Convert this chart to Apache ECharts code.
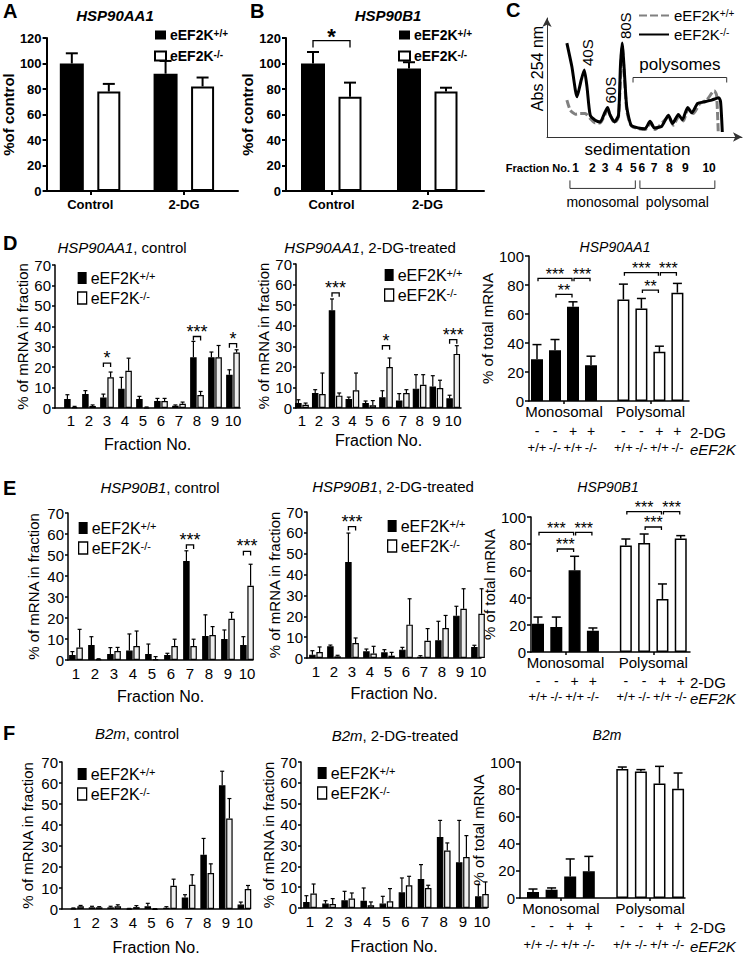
<!DOCTYPE html>
<html><head><meta charset="utf-8">
<script src="https://cdn.jsdelivr.net/npm/echarts@6/dist/echarts.min.js"></script>
<style>html,body{margin:0;padding:0;background:#fff}#c{width:745px;height:957px}</style>
</head><body><div id="c"></div><script>
const FONT = '"Liberation Sans", Arial, Helvetica, sans-serif';
const WT = 'eEF2K+/+', KO = 'eEF2K-/-';
const WT_P = 'eEF2K+/+ profile', KO_P = 'eEF2K-/- profile';

// ---------- Panel A / B : % of control ----------
const abCategories = ['Control', '2-DG'];
const aWT = [100, 92], aWTErr = [108, 102];
const aKO = [78, 82], aKOErr = [84, 89];
const bWT = [100, 96], bWTErr = [109, 101];
const bKO = [74, 78], bKOErr = [85, 81];
const bSig = [[1, 118, '*']];

// ---------- Panel C : polysome profile (x: sedimentation, y: Abs 254) ----------
const cProfileKO = [[10.4,78.9],[13.0,59.2],[15.7,33.8],[17.9,47.9],[19.5,56.3],[20.9,42.3],[22.6,18.3],[25.2,14.1],[27.8,12.7],[30.4,21.1],[31.7,24.8],[33.0,18.3],[35.3,12.7],[37.4,18.3],[38.4,59.2],[39.3,78.9],[40.3,59.2],[41.7,25.4],[44.0,9.9],[47.8,7.6],[51.3,7.0],[53.9,13.2],[56.2,7.6],[60.0,9.0],[63.5,18.3],[65.7,11.3],[68.7,18.9],[70.8,14.6],[73.6,24.8],[75.7,20.3],[78.8,28.2],[82.6,29.6],[86.1,31.0],[89.9,33.0],[90.8,29.6],[91.7,4.2]];
const cProfileWT = [[10.4,31.0],[12.2,22.5],[14.8,19.2],[17.4,19.7],[20.0,19.7],[22.6,15.5],[25.2,11.8],[27.8,11.8],[31.7,22.5],[35.3,11.8],[37.4,16.9],[39.3,76.1],[41.7,22.5],[44.3,9.0],[51.3,6.2],[54.3,11.8],[56.5,6.2],[63.5,16.9],[66.1,9.9],[69.0,17.5],[71.3,13.5],[73.9,23.9],[76.5,19.7],[80.0,28.2],[83.5,31.0],[87.5,38.9],[88.7,35.2],[89.6,2.8]];
const cPeakLabels = ['40S', '60S', '80S'];
const cPeakX = [19.5, 31.7, 39.3];
const cPeakY = [56.3, 24.8, 78.9];
const cFractionLabels = ['1','2','3','4','5','6','7','8','9','10'];
const cFractionPos = [15.0, 23.7, 30.4, 37.7, 45.2, 49.6, 56.0, 64.0, 72.3, 84.8];
const cPolysomeRange = [45, 94];

// ---------- Fraction panels ----------
const fractions = [1,2,3,4,5,6,7,8,9,10];
const dCtrlWT = [4.4, 6.8, 5.2, 9.4, 4.4, 3.4, 1.1, 24.8, 24.8, 16.3];
const dCtrlWTErr = [6.5, 8.5, 6.8, 15.0, 5.7, 4.7, 1.5, 32.6, 27.4, 18.7];
const dCtrlKO = [0.5, 1.0, 15.0, 18.2, 0.3, 3.4, 2.1, 6.4, 24.8, 27.2];
const dCtrlKOErr = [0.8, 1.5, 17.6, 24.4, 0.5, 4.7, 2.9, 8.1, 30.6, 28.5];
const dCtrlSig = [[3, 22, '*'], [8, 35, '***'], [10, 31.5, '*']];

const dDgWT = [2.4, 7.3, 47.5, 4.4, 2.4, 5.2, 3.7, 9.4, 10.5, 4.7];
const dDgWTErr = [4.0, 8.9, 53.0, 5.3, 3.4, 8.4, 7.0, 16.2, 15.7, 6.2];
const dDgKO = [1.6, 6.8, 6.0, 8.6, 1.3, 19.9, 7.3, 11.3, 9.7, 26.3];
const dDgKOErr = [2.4, 17.0, 7.3, 17.0, 3.6, 24.3, 8.9, 16.2, 13.5, 30.3];
const dDgSig = [[3, 56, '***'], [6, 30.3, '*'], [10, 33.2, '***']];

const eCtrlWT = [2.4, 7.2, 2.9, 4.5, 2.9, 2.4, 47.2, 11.4, 10.0, 7.2];
const eCtrlWTErr = [4.0, 11.1, 5.9, 12.4, 7.6, 3.2, 52.0, 21.5, 14.3, 11.1];
const eCtrlKO = [5.9, 0.5, 4.3, 6.7, 0.5, 6.7, 6.7, 11.9, 19.6, 35.3];
const eCtrlKOErr = [14.6, 0.6, 6.0, 13.8, 1.6, 9.9, 9.9, 15.9, 22.7, 45.6];
const eCtrlSig = [[7, 54.8, '***'], [10, 51.7, '***']];

const eDgWT = [1.6, 5.6, 46.0, 3.2, 2.7, 4.0, 0.6, 8.5, 20.3, 5.3];
const eDgWTErr = [3.5, 6.2, 59.9, 4.3, 4.0, 5.1, 1.1, 17.6, 24.8, 6.1];
const eDgKO = [2.9, 0.8, 7.2, 2.1, 1.1, 16.0, 8.3, 14.4, 23.6, 21.2];
const eDgKOErr = [5.3, 1.3, 9.6, 5.6, 2.7, 28.4, 14.1, 20.4, 33.2, 33.2];
const eDgSig = [[3, 63, '***']];

const fCtrlWT = [0.3, 0.8, 0.8, 0.2, 1.3, 0.6, 5.5, 25.8, 58.9, 2.1];
const fCtrlWTErr = [0.5, 1.3, 1.3, 0.3, 2.7, 1.1, 6.8, 33.6, 65.6, 3.3];
const fCtrlKO = [1.3, 0.8, 1.3, 0.9, 0.1, 11.1, 11.5, 17.1, 43.1, 9.5];
const fCtrlKOErr = [1.7, 1.1, 2.0, 1.6, 0.2, 14.2, 16.3, 21.5, 52.6, 11.2];

const fDgWT = [2.9, 2.1, 3.7, 3.5, 2.1, 7.5, 13.9, 34.0, 21.9, 5.6];
const fDgWTErr = [5.9, 3.5, 8.0, 9.6, 5.6, 14.4, 20.8, 42.0, 42.0, 11.2];
const fDgKO = [6.9, 1.9, 4.5, 1.3, 3.2, 10.9, 9.6, 27.6, 24.4, 6.7];
const fDgKOErr = [11.5, 4.5, 7.2, 2.9, 9.3, 15.2, 10.9, 31.2, 34.7, 12.5];

// ---------- Total mRNA panels ----------
const groupLabels = ['Monosomal', 'Polysomal'];
const dgRow = ['-', '-', '+', '+'];
const genoRow = ['+/+', '-/-', '+/+', '-/-'];
const dTotMono = [28.8, 35.0, 65.0, 24.7], dTotMonoErr = [38.9, 42.4, 68.4, 30.9];
const dTotPoly = [70.0, 63.8, 33.9, 74.7], dTotPolyErr = [80.6, 70.7, 37.8, 81.1];
const dTotSig = [[1,3,84.6,'***'],[3,4,84.6,'***'],[2,3,73.5,'**'],[5,7,88.5,'***'],[7,8,88.5,'***'],[6,7,76.5,'**']];
const eTotMono = [21.0, 18.5, 60.5, 15.8], eTotMonoErr = [25.9, 25.9, 70.9, 17.8];
const eTotPoly = [78.8, 80.7, 39.3, 84.0], eTotPolyErr = [83.7, 87.4, 50.4, 86.2];
const eTotSig = [[1,3,88.6,'***'],[3,4,88.6,'***'],[2,3,76.3,'***'],[5,7,104,'***'],[7,8,104,'***'],[6,7,92.6,'***']];
const fTotMono = [4.4, 6.1, 15.9, 19.6], fTotMonoErr = [6.6, 7.4, 28.7, 30.6];
const fTotPoly = [94.9, 93.1, 84.1, 80.4], fTotPolyErr = [96.3, 94.4, 96.8, 91.9];

// ===================================================================
const chart = echarts.init(document.getElementById('c'), null, {renderer: 'svg'});
const option = {animation: false, backgroundColor: '#fff', grid: [], xAxis: [], yAxis: [], series: [], legend: [], graphic: []};
const BAR_SLOTS = [1, 2, 3, 4, 5.8, 6.8, 7.8, 8.8];

function txt(x, y, text, style, rot) {
  option.graphic.push({type: 'text', x, y, rotation: rot || 0, silent: true,
    style: Object.assign({text, fontFamily: FONT, fontSize: 14, fill: '#000', align: 'center', verticalAlign: 'middle'}, style || {})});
}
function richTitle(x, y, gene, rest, size) {
  txt(x, y, '{i|' + gene + '}' + rest, {fontSize: size, rich: {i: {fontStyle: 'italic', fontFamily: FONT, fontSize: size, fill: '#000'}}});
}
function addLegend(left, top, o) {
  const fs = o.fontSize || 15, bold = o.bold ? 'bold' : 'normal';
  option.legend.push({
    left, top, orient: 'vertical', selectedMode: false, padding: 0,
    itemWidth: o.iw || 9, itemHeight: o.ih || 12, itemGap: o.gap || 4,
    data: o.data || [
      {name: WT, icon: 'rect', itemStyle: {color: '#000', borderWidth: 0}},
      {name: KO, icon: 'rect', itemStyle: {color: '#fff', borderColor: '#000', borderWidth: o.bwid || 1.3}}],
    formatter: n => n.indexOf('+/+') >= 0 ? 'eEF2K{s|+/+}' : 'eEF2K{s|-/-}',
    textStyle: {fontFamily: FONT, fontSize: fs, fontWeight: bold, color: '#000', padding: [0, 0, 0, -1],
      rich: {s: {fontSize: Math.round(fs * 0.68), fontWeight: bold, fontFamily: FONT, color: '#000', verticalAlign: 'top', padding: [0, 0, 0, 0]}}}
  });
}
function barsSeries(xi, yi, name, xs, vals, errs, fill, lw, bw, off, capW) {
  return {type: 'custom', name, xAxisIndex: xi, yAxisIndex: yi, clip: false, silent: true, z: 3,
    data: xs.map((x, i) => [x, vals[i], errs[i]]),
    renderItem(params, api) {
      const x = api.value(0), v = api.value(1), e = api.value(2);
      const b = api.coord([x, 0]), t = api.coord([x, v]), et = api.coord([x, e]);
      const cx = b[0] + off, h = lw / 2;
      return {type: 'group', children: [
        {type: 'line', shape: {x1: cx, y1: t[1], x2: cx, y2: et[1]}, style: {stroke: '#000', lineWidth: lw}},
        {type: 'line', shape: {x1: cx - capW / 2, y1: et[1], x2: cx + capW / 2, y2: et[1]}, style: {stroke: '#000', lineWidth: lw}},
        {type: 'rect', shape: {x: cx - bw / 2 + h, y: t[1] + h, width: bw - lw, height: Math.max(0, b[1] - t[1] - lw)},
          style: {fill, stroke: '#000', lineWidth: lw}}
      ]};
    }};
}
function sigSeries(xi, yi, items, offA, offB, drop, fontSize, gap, bold) {
  return {type: 'custom', xAxisIndex: xi, yAxisIndex: yi, clip: false, silent: true, z: 4,
    data: items.map(d => [d[0], d[2], d[1]]),
    renderItem(params, api) {
      const d = items[params.dataIndex];
      const a = api.coord([d[0], d[2]]), b = api.coord([d[1], d[2]]);
      const x1 = a[0] + offA, x2 = b[0] + offB, y = a[1];
      return {type: 'group', children: [
        {type: 'polyline', shape: {points: [[x1, y + drop], [x1, y], [x2, y], [x2, y + drop]]}, style: {stroke: '#000', lineWidth: 1.3, fill: null}},
        {type: 'text', x: (x1 + x2) / 2, y: y - gap, style: {text: d[3], fontSize, fontWeight: bold ? 'bold' : 'normal', fontFamily: FONT, fill: '#000', align: 'center', verticalAlign: 'middle'}}
      ]};
    }};
}
const blackLine = w => ({show: true, onZero: false, lineStyle: {color: '#000', width: w}});

// ---------- A / B ----------
function abPanel(c) {
  const gi = option.grid.length;
  option.grid.push({left: c.left, top: 38, width: c.right - c.left, height: 153});
  const xi = option.xAxis.length, yi = option.yAxis.length;
  const min = 1 - (c.p1 - c.left) / c.s, max = 1 + (c.right - c.p1) / c.s;
  option.xAxis.push({type: 'value', gridIndex: gi, min, max, splitLine: {show: false}, axisLine: blackLine(2),
    axisTick: {show: true, customValues: [1, 2], length: 4, lineStyle: {color: '#000', width: 2}},
    axisLabel: {customValues: [1, 2], formatter: v => abCategories[v - 1], color: '#000', fontFamily: FONT, fontSize: 13, fontWeight: 'bold', margin: 7}});
  option.yAxis.push({type: 'value', gridIndex: gi, min: 0, max: 120, interval: 20, splitLine: {show: false}, axisLine: blackLine(2),
    axisTick: {show: true, length: 4, lineStyle: {color: '#000', width: 2}},
    axisLabel: {color: '#000', fontFamily: FONT, fontSize: 13, fontWeight: 'bold', margin: 5},
    name: '%of control', nameLocation: 'middle', nameGap: 27, nameTextStyle: {color: '#000', fontFamily: FONT, fontSize: 15, fontWeight: 'bold'}});
  const pos = [1, 2];
  option.series.push(barsSeries(xi, yi, WT, pos, c.wt, c.wtErr, '#000', 2, 24, -18.5, 12));
  option.series.push(barsSeries(xi, yi, KO, pos, c.ko, c.koErr, '#fff', 2, 23, 18.5, 12));
  if (c.sig) option.series.push(sigSeries(xi, yi, c.sig.map(d => [d[0], d[0], d[1], d[2]]), -18.5, 18.5, 7, 22, 4, true));
  addLegend(c.legLeft, 28, {fontSize: 14, bold: true, iw: 11, ih: 9, gap: 7, bwid: 2});
  txt(c.titleX, 15, c.title, {fontSize: 15, fontWeight: 'bold', fontStyle: 'italic'});
}
abPanel({left: 41, right: 238, p1: 86, s: 96.5, wt: aWT, wtErr: aWTErr, ko: aKO, koErr: aKOErr, legLeft: 154, title: 'HSP90AA1', titleX: 115});
abPanel({left: 286, right: 484, p1: 331.5, s: 96, wt: bWT, wtErr: bWTErr, ko: bKO, koErr: bKOErr, sig: bSig, legLeft: 398, title: 'HSP90B1', titleX: 388});

// ---------- C ----------
(function () {
  const gi = option.grid.length;
  option.grid.push({left: 547, top: 18, width: 195, height: 119});
  const xi = option.xAxis.length, yi = option.yAxis.length;
  const axLine = {show: true, onZero: false, symbol: ['none', 'arrow'], symbolSize: [7, 9], lineStyle: {color: '#333', width: 1}};
  option.xAxis.push({type: 'value', gridIndex: gi, min: 0, max: 102, splitLine: {show: false}, axisLine: axLine, axisTick: {show: false}, axisLabel: {show: false},
    name: 'sedimentation', nameLocation: 'middle', nameGap: 4, nameTextStyle: {color: '#000', fontFamily: FONT, fontSize: 17, padding: [0, 14, 0, 0]}});
  option.xAxis.push({type: 'value', gridIndex: gi, min: 0, max: 102, position: 'bottom', offset: 25, splitLine: {show: false}, axisLine: {show: false}, axisTick: {show: false},
    axisLabel: {customValues: cFractionPos, formatter: v => cFractionLabels[cFractionPos.indexOf(v)], color: '#000', fontFamily: FONT, fontSize: 12, fontWeight: 'bold', margin: 0}});
  option.yAxis.push({type: 'value', gridIndex: gi, min: 0, max: 100, splitLine: {show: false}, axisLine: axLine, axisTick: {show: false}, axisLabel: {show: false},
    name: 'Abs 254 nm', nameLocation: 'middle', nameGap: 2, nameTextStyle: {color: '#000', fontFamily: FONT, fontSize: 16, padding: [0, 0, 0, 18]}});
  option.series.push({type: 'line', name: WT_P, xAxisIndex: xi, yAxisIndex: yi, data: cProfileWT, symbol: 'none', smooth: 0.2, z: 2,
    lineStyle: {color: '#808080', width: 3, type: [8, 3]}, itemStyle: {color: '#808080'}});
  option.series.push({type: 'line', name: KO_P, xAxisIndex: xi, yAxisIndex: yi, data: cProfileKO, symbol: 'none', smooth: 0.2, z: 3,
    lineStyle: {color: '#000', width: 3}, itemStyle: {color: '#000'}});
  option.series.push({type: 'custom', xAxisIndex: xi, yAxisIndex: yi, clip: false, silent: true, z: 4,
    data: cPeakX.map((x, i) => [x, cPeakY[i]]),
    renderItem(params, api) {
      const p = api.coord([api.value(0), api.value(1)]);
      return {type: 'text', x: p[0] + 3, y: p[1] - 4, rotation: Math.PI / 2,
        style: {text: cPeakLabels[params.dataIndex], fontFamily: FONT, fontSize: 15, fill: '#000', align: 'left', verticalAlign: 'middle'}};
    }});
  const brackets = [
    {x1: cPolysomeRange[0], x2: cPolysomeRange[1], y: 50, dir: 1, label: 'polysomes', ly: -13, fs: 17},
    {x1: cFractionPos[0] - 3, x2: cFractionPos[4] + 1, y: -36.5, dir: -1, label: 'monosomal', ly: 14, fs: 14},
    {x1: cFractionPos[5] - 1, x2: cFractionPos[9] + 3, y: -36.5, dir: -1, label: 'polysomal', ly: 14, fs: 14}];
  option.series.push({type: 'custom', xAxisIndex: xi, yAxisIndex: yi, clip: false, silent: true, z: 4,
    data: brackets.map(b => [b.x1, b.y]),
    renderItem(params, api) {
      const b = brackets[params.dataIndex];
      const p1 = api.coord([b.x1, b.y]), p2 = api.coord([b.x2, b.y]);
      const yl = b.dir > 0 ? p1[1] : p1[1] + 8;
      const ye = b.dir > 0 ? p1[1] + 5 : p1[1];
      return {type: 'group', children: [
        {type: 'polyline', shape: {points: [[p1[0], ye], [p1[0], yl], [p2[0], yl], [p2[0], ye]]}, style: {stroke: '#333', lineWidth: 1, fill: null}},
        {type: 'text', x: (p1[0] + p2[0]) / 2, y: yl + b.ly, style: {text: b.label, fontFamily: FONT, fontSize: b.fs, fill: '#000', align: 'center', verticalAlign: 'middle'}}]};
    }});
  option.legend.push({left: 638, top: 8, orient: 'vertical', selectedMode: false, padding: 0, itemWidth: 30, itemHeight: 14, itemGap: 4,
    data: [{name: WT_P, itemStyle: {opacity: 0}}, {name: KO_P, itemStyle: {opacity: 0}}],
    formatter: n => n.indexOf('+/+') >= 0 ? 'eEF2K{s|+/+}' : 'eEF2K{s|-/-}',
    textStyle: {fontFamily: FONT, fontSize: 15, color: '#000', rich: {s: {fontSize: 10, fontFamily: FONT, color: '#000', verticalAlign: 'top'}}}});
  txt(570, 168, 'Fraction No.', {fontSize: 11, fontWeight: 'bold', align: 'right'});
})();

// ---------- fraction panels ----------
function fracPanel(c) {
  const gi = option.grid.length;
  option.grid.push({left: c.left, top: c.top, width: c.right - c.left, height: c.bottom - c.top});
  const xi = option.xAxis.length, yi = option.yAxis.length;
  const min = 1 - (c.p1 - c.left) / c.s, max = 1 + (c.right - c.p1) / c.s;
  option.xAxis.push({type: 'value', gridIndex: gi, min, max, splitLine: {show: false}, axisLine: blackLine(1.5), axisTick: {show: false},
    axisLabel: {customValues: fractions, formatter: v => String(v), color: '#000', fontFamily: FONT, fontSize: 15, margin: c.lm},
    name: 'Fraction No.', nameLocation: 'middle', nameGap: c.ng, nameTextStyle: {color: '#000', fontFamily: FONT, fontSize: 16}});
  option.yAxis.push({type: 'value', gridIndex: gi, min: 0, max: 70, interval: 10, splitLine: {show: false}, axisLine: blackLine(1.5),
    axisTick: {show: true, length: 3, lineStyle: {color: '#000', width: 1.5}},
    axisLabel: {color: '#000', fontFamily: FONT, fontSize: 15, margin: 4},
    name: '% of mRNA in fraction', nameLocation: 'middle', nameGap: c.yng, nameTextStyle: {color: '#000', fontFamily: FONT, fontSize: 15}});
  const bw = 6.5, off = 3.6;
  option.series.push(barsSeries(xi, yi, WT, fractions, c.wt, c.wtErr, '#000', 1.2, bw, -off, 4));
  option.series.push(barsSeries(xi, yi, KO, fractions, c.ko, c.koErr, '#eeeeee', 1.2, bw, off, 4));
  if (c.sig) option.series.push(sigSeries(xi, yi, c.sig.map(d => [d[0], d[0], d[1], d[2]]), -off, off, 4, 18, 5));
  addLegend(c.legLeft, c.legTop, {fontSize: 16});
  richTitle(c.tx, c.ty, c.gene, c.rest, 15);
}
fracPanel({left: 55, right: 240, top: 265, bottom: 408, p1: 71, s: 18, lm: 5, ng: 28, yng: 22, wt: dCtrlWT, wtErr: dCtrlWTErr, ko: dCtrlKO, koErr: dCtrlKOErr, sig: dCtrlSig, legLeft: 77, legTop: 270, tx: 122, ty: 247, gene: 'HSP90AA1', rest: ', control'});
fracPanel({left: 296, right: 461, top: 264, bottom: 408, p1: 302, s: 16.8, lm: 5, ng: 24, yng: 20, wt: dDgWT, wtErr: dDgWTErr, ko: dDgKO, koErr: dDgKOErr, sig: dDgSig, legLeft: 384, legTop: 267, tx: 370, ty: 247, gene: 'HSP90AA1', rest: ', 2-DG-treated'});
fracPanel({left: 68, right: 253, top: 513, bottom: 660, p1: 76, s: 19, lm: 6, ng: 28, yng: 27, wt: eCtrlWT, wtErr: eCtrlWTErr, ko: eCtrlKO, koErr: eCtrlKOErr, sig: eCtrlSig, legLeft: 78, legTop: 520, tx: 160, ty: 487, gene: 'HSP90B1', rest: ', control'});
fracPanel({left: 307, right: 481, top: 512, bottom: 658, p1: 316, s: 18, lm: 6, ng: 27, yng: 23, wt: eDgWT, wtErr: eDgWTErr, ko: eDgKO, koErr: eDgKOErr, sig: eDgSig, legLeft: 387, legTop: 518, tx: 393, ty: 486, gene: 'HSP90B1', rest: ', 2-DG-treated'});
fracPanel({left: 62, right: 250, top: 762, bottom: 909, p1: 77, s: 18.6, lm: 6, ng: 30, yng: 27, wt: fCtrlWT, wtErr: fCtrlWTErr, ko: fCtrlKO, koErr: fCtrlKOErr, legLeft: 77, legTop: 766, tx: 137, ty: 733, gene: 'B2m', rest: ', control'});
fracPanel({left: 301, right: 487, top: 762, bottom: 908, p1: 310, s: 19.1, lm: 6, ng: 30, yng: 22, wt: fDgWT, wtErr: fDgWTErr, ko: fDgKO, koErr: fDgKOErr, legLeft: 317, legTop: 765, tx: 395, ty: 735, gene: 'B2m', rest: ', 2-DG-treated'});

// ---------- total mRNA panels ----------
function totPanel(c) {
  const gi = option.grid.length;
  option.grid.push({left: c.left, top: c.top, width: c.right - c.left, height: c.bottom - c.top});
  const xi = option.xAxis.length, yi = option.yAxis.length;
  const min = 1 - (c.p1 - c.left) / c.s, max = 1 + (c.right - c.p1) / c.s;
  const centers = [(BAR_SLOTS[0] + BAR_SLOTS[3]) / 2, (BAR_SLOTS[4] + BAR_SLOTS[7]) / 2];
  const lab = {color: '#000', fontFamily: FONT, fontSize: 15, margin: 3};
  option.xAxis.push({type: 'value', gridIndex: gi, min, max, splitLine: {show: false}, axisLine: blackLine(1.5),
    axisTick: {show: true, customValues: centers, length: 3, lineStyle: {color: '#000', width: 1.5}},
    axisLabel: Object.assign({customValues: centers, formatter: v => groupLabels[centers.indexOf(v)]}, lab)});
  option.xAxis.push({type: 'value', gridIndex: gi, min, max, position: 'bottom', offset: c.r1, splitLine: {show: false}, axisLine: {show: false}, axisTick: {show: false},
    axisLabel: Object.assign({customValues: BAR_SLOTS, formatter: v => dgRow[BAR_SLOTS.indexOf(v) % 4]}, lab, {fontSize: 14})});
  option.xAxis.push({type: 'value', gridIndex: gi, min, max, position: 'bottom', offset: c.r2, splitLine: {show: false}, axisLine: {show: false}, axisTick: {show: false},
    axisLabel: Object.assign({customValues: BAR_SLOTS, formatter: v => genoRow[BAR_SLOTS.indexOf(v) % 4]}, lab, {fontSize: 13})});
  option.yAxis.push({type: 'value', gridIndex: gi, min: 0, max: 100, interval: 20, splitLine: {show: false}, axisLine: blackLine(1.5),
    axisTick: {show: true, length: 4, lineStyle: {color: '#000', width: 1.5}},
    axisLabel: {color: '#000', fontFamily: FONT, fontSize: 15, margin: 5},
    name: '% of total mRNA', nameLocation: 'middle', nameGap: c.yng, nameTextStyle: {color: '#000', fontFamily: FONT, fontSize: 15}});
  option.series.push(barsSeries(xi, yi, 'Monosomal', BAR_SLOTS.slice(0, 4), c.mono, c.monoErr, '#000', 1.5, 12, 0, 9));
  option.series.push(barsSeries(xi, yi, 'Polysomal', BAR_SLOTS.slice(4), c.poly, c.polyErr, '#fff', 1.5, 12, 0, 9));
  if (c.sig) option.series.push(sigSeries(xi, yi, c.sig.map(d => [BAR_SLOTS[d[0] - 1], BAR_SLOTS[d[1] - 1], d[2], d[3]]), 1, -1, 3, 16, 4));
  richTitle(c.tx, c.ty, c.gene, '', 14);
  const ax = c.bottom;
  txt(c.rowX, ax + c.r1 + 11, '2-DG', {align: 'left', fontSize: 15});
  txt(c.rowX, ax + c.r2 + 11, 'eEF2K', {align: 'left', fontSize: 15, fontStyle: 'italic'});
}
totPanel({left: 529, right: 689, top: 256, bottom: 401, p1: 537, s: 18, r1: 20, r2: 37, yng: 31, mono: dTotMono, monoErr: dTotMonoErr, poly: dTotPoly, polyErr: dTotPolyErr, sig: dTotSig, tx: 615, ty: 247, gene: 'HSP90AA1', rowX: 690});
totPanel({left: 531, right: 690, top: 517, bottom: 652, p1: 538, s: 18.3, r1: 19, r2: 35, yng: 31, mono: eTotMono, monoErr: eTotMonoErr, poly: eTotPoly, polyErr: eTotPolyErr, sig: eTotSig, tx: 608, ty: 487, gene: 'HSP90B1', rowX: 690});
totPanel({left: 520, right: 685, top: 762, bottom: 898, p1: 533, s: 18.6, r1: 18, r2: 37, yng: 30, mono: fTotMono, monoErr: fTotMonoErr, poly: fTotPoly, polyErr: fTotPolyErr, tx: 607, ty: 735, gene: 'B2m', rowX: 690});

// ---------- panel letters ----------
[['A', 3, 11], ['B', 250, 11], ['C', 506, 10], ['D', 3, 243], ['E', 3, 488], ['F', 3, 733]].forEach(l =>
  txt(l[1], l[2], l[0], {fontSize: 20, fontWeight: 'bold', align: 'left'}));

chart.setOption(option);
</script></body></html>
